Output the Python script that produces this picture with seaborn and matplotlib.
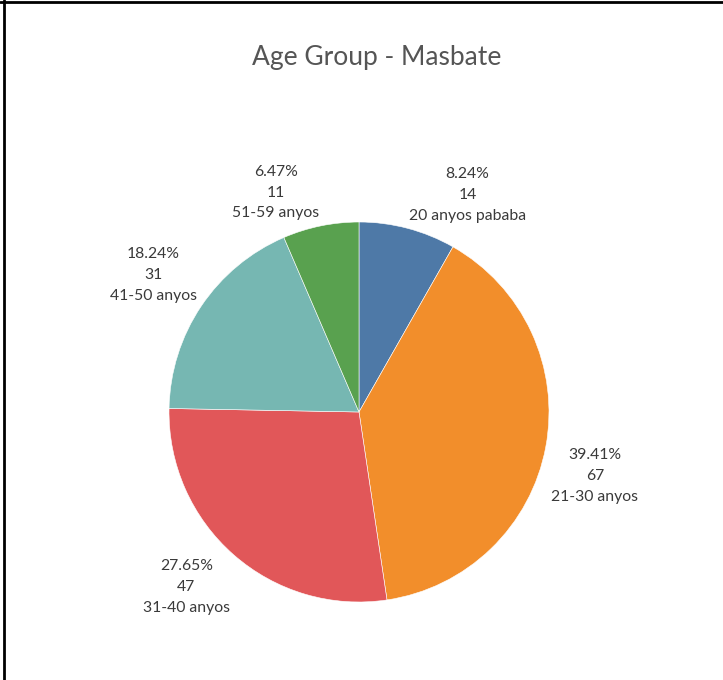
import numpy as np
import matplotlib
matplotlib.use("Agg")
import matplotlib.pyplot as plt
from matplotlib.lines import Line2D
import seaborn as sns

# data, clockwise from 12 o'clock
groups = ["20 anyos pababa", "21-30 anyos", "31-40 anyos", "41-50 anyos", "51-59 anyos"]
counts = [14, 67, 47, 31, 11]
colors = ["#4e79a7", "#f28e2b", "#e15759", "#76b7b2", "#59a14f"]

sns.set_theme(style="white")
plt.rcParams['font.family'] = ['Lato', 'DejaVu Sans']

fig = plt.figure(figsize=(7.23, 6.8), dpi=100)
W, H = 723, 680
cx, cy, r = 359, 412, 190
ax = fig.add_axes([(cx - r) / W, (H - cy - r) / H, 2 * r / W, 2 * r / H])

wedges, _ = ax.pie(counts, colors=colors, startangle=90, counterclock=False,
                   radius=1, wedgeprops=dict(linewidth=0.4, edgecolor="white"))
ax.set_xlim(-1, 1)
ax.set_ylim(-1, 1)
ax.set_aspect("equal")
ax.axis("off")

total = sum(counts)
for w, n, g in zip(wedges, counts, groups):
    ang = np.deg2rad((w.theta1 + w.theta2) / 2)
    x, y = 1.03 * np.cos(ang), 1.03 * np.sin(ang)
    ha = "left" if x > 0 else "right"
    va = "bottom" if y > 0 else "top"
    ax.text(x, y, f"{n / total * 100:.2f}%\n{n}\n{g}", ha=ha, va=va,
            multialignment="center", fontsize=11.3, color="#3a3a3a",
            linespacing=1.62)

fig.text(377 / W, 1 - 58 / H, "Age Group - Masbate", ha="center", va="center",
         fontsize=19, color="#555555")

# frame lines on top and left
fig.add_artist(Line2D([0, 1], [1 - 2 / H, 1 - 2 / H], color="black", lw=2))
fig.add_artist(Line2D([4 / W, 4 / W], [0, 1], color="black", lw=2))

fig.savefig("out.png", dpi=100)
